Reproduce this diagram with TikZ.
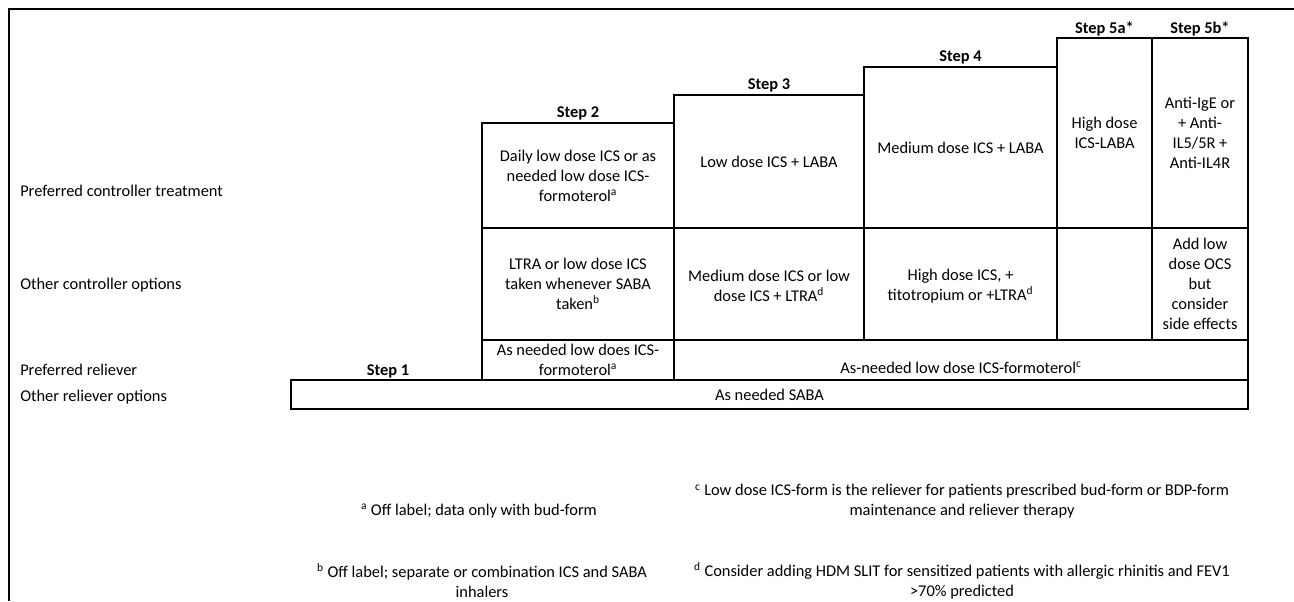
\documentclass[tikz,border=0pt]{standalone}
\usepackage{fontspec}
\setmainfont{Carlito}
\begin{document}
\begin{tikzpicture}[x=0.75pt,y=-0.75pt,
  txt/.style={inner sep=0pt,align=center,font=\fontsize{12.3}{15}\selectfont},
  lab/.style={inner sep=0pt,anchor=west,font=\fontsize{12.3}{15}\selectfont},
  hdr/.style={inner sep=0pt,font=\fontsize{12.3}{15}\selectfont\bfseries},
  cell/.style={draw=black,line width=1pt},
  frame/.style={draw=black,line width=0.8pt}]
\useasboundingbox (0,0) rectangle (1294,601);
% outer frame (top and left edges)
\coordinate (ftl) at (9,9);
\coordinate (ftr) at (1294,9);
\coordinate (fbl) at (9,601);
\draw[frame] (ftr) -- (ftl) -- (fbl);
% row labels
\node[lab] (lpct) at (20,191) {Preferred controller treatment};
\node[lab] (lcco) at (20,285) {Other controller options};
\node[lab] (lpr)  at (20,370) {Preferred reliever};
\node[lab] (lro)  at (20,397) {Other reliever options};
% step headers
\node[hdr] (h1) at (388,371) {Step 1};
\node[hdr] (h2) at (578,113) {Step 2};
\node[hdr] (h3) at (769,85) {Step 3};
\node[hdr] (h4) at (960.5,57) {Step 4};
\node[hdr] (h5a) at (1104.5,29) {Step 5a*};
\node[hdr] (h5b) at (1200,29) {Step 5b*};
% row 1 cells
\draw[cell] (482,123) rectangle (674,228);
\draw[cell] (674,95) rectangle (864,228);
\draw[cell] (864,67) rectangle (1057,228);
\draw[cell] (1057,38) rectangle (1152,228);
\draw[cell] (1152,38) rectangle (1248,228);
% row 2 cells
\draw[cell] (482,228) rectangle (674,340);
\draw[cell] (674,228) rectangle (864,340);
\draw[cell] (864,228) rectangle (1057,340);
\draw[cell] (1057,228) rectangle (1152,340);
\draw[cell] (1152,228) rectangle (1248,340);
% row 3 cells
\draw[cell] (482,340) rectangle (674,380);
\draw[cell] (674,340) rectangle (1248,380);
% row 4
\draw[cell] (291,380) rectangle (1248,409);
% cell texts
\node[txt] (c21) at (578,175.5) {Daily low dose ICS or as\\needed low dose ICS-\\formoterol\textsuperscript{a}};
\node[txt] (c31) at (769,161.5) {Low dose ICS + LABA};
\node[txt] (c41) at (960.5,147.5) {Medium dose ICS + LABA};
\node[txt] (c5a1) at (1104.5,133) {High dose\\ICS-LABA};
\node[txt] (c5b1) at (1200,133) {Anti-IgE or\\+ Anti-\\IL5/5R +\\Anti-IL4R};
\node[txt] (c22) at (578,284) {LTRA or low dose ICS\\taken whenever SABA\\taken\textsuperscript{b}};
\node[txt] (c32) at (769,286) {Medium dose ICS or low\\dose ICS + LTRA\textsuperscript{d}};
\node[txt] (c42) at (960.5,286) {High dose ICS, +\\titotropium or +LTRA\textsuperscript{d}};
\node[txt] (c5b2) at (1200,284) {Add low\\dose OCS\\but\\consider\\side effects};
\node[txt] (c23) at (578,360) {As needed low does ICS-\\formoterol\textsuperscript{a}};
\node[txt] (c33) at (961,368) {As-needed low dose ICS-formoterol\textsuperscript{c}};
\node[txt] (c14) at (769.5,395) {As needed SABA};
% footnotes
\node[txt] (fa) at (479,511) {\textsuperscript{a} Off label; data only with bud-form};
\node[txt] (fb) at (482,580.5) {\textsuperscript{b} Off label; separate or combination ICS and SABA\\inhalers};
\node[txt] (fc) at (962,501.5) {\textsuperscript{c} Low dose ICS-form is the reliever for patients prescribed bud-form or BDP-form\\maintenance and reliever therapy};
\node[txt] (fd) at (962,580.5) {\textsuperscript{d} Consider adding HDM SLIT for sensitized patients with allergic rhinitis and FEV1\\>70\% predicted};
\end{tikzpicture}
\end{document}
